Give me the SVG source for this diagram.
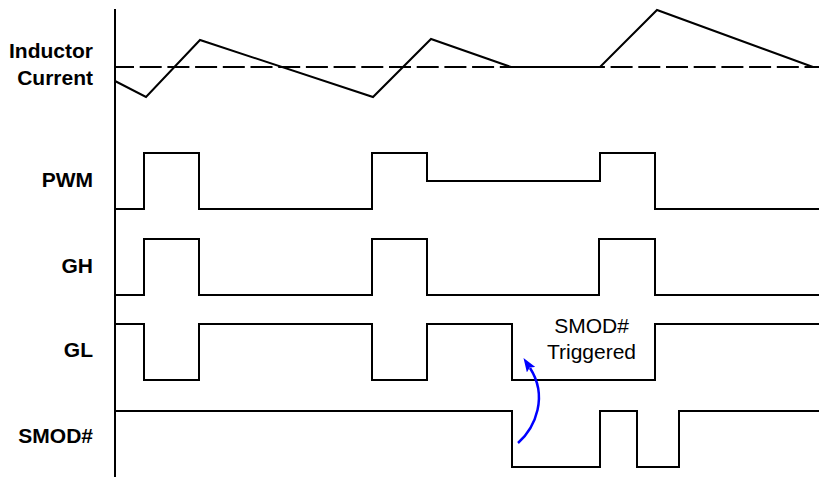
<svg xmlns="http://www.w3.org/2000/svg" width="819" height="477" viewBox="0 0 819 477">
  <style>
    .wave { fill: none; stroke: #000; stroke-width: 2; stroke-linejoin: miter; stroke-linecap: butt; }
    .lbl { font-family: "Liberation Sans", Arial, sans-serif; font-size: 21px; font-weight: bold; fill: #000; text-anchor: end; }
    .note { font-family: "Liberation Sans", Arial, sans-serif; font-size: 21px; fill: #000; text-anchor: middle; }
    .ref { fill: none; stroke: #000; stroke-width: 2; stroke-dasharray: 22 5.7; stroke-dashoffset: 3; }
  </style>
  <defs>
    <marker id="blueHead" viewBox="0 0 14 10" refX="2" refY="5" markerWidth="14" markerHeight="10" markerUnits="userSpaceOnUse" orient="auto">
      <path d="M0,0 L14,5 L0,10 L2.5,5 z" fill="#0000ff"/>
    </marker>
  </defs>
  <rect width="819" height="477" fill="#fff"/>

  <g id="axis">
    <line x1="115" y1="9" x2="115" y2="477" stroke="#000" stroke-width="2"/>
  </g>

  <g id="inductor-current">
    <text class="lbl" x="93" y="58">Inductor</text>
    <text class="lbl" x="93" y="85">Current</text>
    <line class="ref" x1="115" y1="67" x2="819" y2="67"/>
    <polyline class="wave" points="115,81 146,97 200,40 373,97 431,39 511,67 600,67 657,10 813,67"/>
  </g>

  <g id="pwm">
    <text class="lbl" x="93" y="186.5">PWM</text>
    <path class="wave" d="M115,209 H144 V153 H199 V209 H372 V153 H427 V181 H600 V153 H655 V209 H819"/>
  </g>

  <g id="gh">
    <text class="lbl" x="93" y="273">GH</text>
    <path class="wave" d="M115,295 H144 V239 H199 V295 H372 V239 H427 V295 H599 V239 H655 V295 H819"/>
  </g>

  <g id="gl">
    <text class="lbl" x="93" y="357">GL</text>
    <path class="wave" d="M115,324 H144 V380 H199 V324 H372 V380 H427 V324 H512 V380 H655 V324 H819"/>
  </g>

  <g id="smod">
    <text class="lbl" x="93" y="442.5">SMOD#</text>
    <path class="wave" d="M115,411 H512 V467 H600 V411 H637 V467 H679 V411 H819"/>
  </g>

  <g id="smod-triggered">
    <text class="note" x="591.5" y="332.5">SMOD#</text>
    <text class="note" x="591.5" y="358.5">Triggered</text>
  </g>

  <g id="connectors">
    <path d="M518,443 C536,427 548,396 530,368" fill="none" stroke="#0000ff" stroke-width="2.5" marker-end="url(#blueHead)"/>
  </g>
</svg>
